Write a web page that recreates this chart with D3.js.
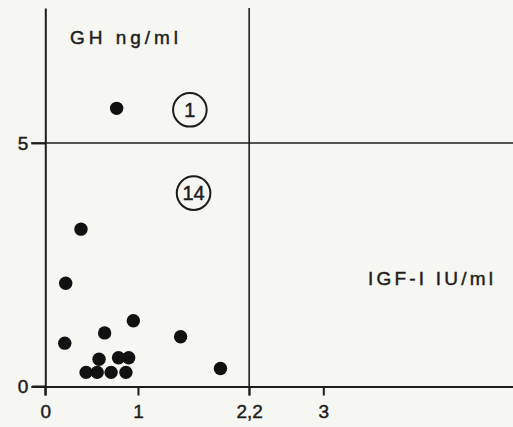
<!DOCTYPE html>
<html>
<head>
<meta charset="utf-8">
<script src="https://cdn.jsdelivr.net/npm/d3@7"></script>
<style>
    html,body{margin:0;padding:0;background:#f6f6f2;}
    svg{display:block;}
    text{stroke:#1d1d1d;stroke-width:0.45px;}
    .axis path,.axis line{stroke:#1d1d1d;stroke-width:2;}
    .axis text{font-family:"Liberation Sans",Arial,sans-serif;font-size:19px;fill:#1d1d1d;}
    .cut{stroke:#1d1d1d;stroke-width:1.6;}
    .label{font-family:"Liberation Sans",Arial,sans-serif;font-size:19px;fill:#1d1d1d;}
    .dot{fill:#111;}
    .ring{fill:none;stroke:#1d1d1d;stroke-width:2;}
    .ring_text{font-family:"Liberation Sans",Arial,sans-serif;font-size:20px;fill:#1d1d1d;}
</style>
</head>
<body>
<div id="scatter"></div>
<script>
// IGF-I (IU/ml) of every patient
var igf=[0.77,0.385,0.22,0.21,0.64,0.95,1.46,0.58,0.79,0.90,0.44,0.56,0.71,0.87,1.89];
// GH (ng/ml) of every patient
var gh=[5.71,3.23,2.12,0.89,1.10,1.35,1.02,0.56,0.59,0.59,0.29,0.29,0.29,0.29,0.37];

// tick values / labels
var x_ticks=[0,1,2.2,3],
    x_tick_labels=['0','1','2,2','3'],
    y_ticks=[0,5],
    y_tick_labels=['0','5'];

// cut-off values
var igf_cut=2.2,
    gh_cut=5;

// patient counts in the circles
var group_counts=['1','14'],
    group_igf=[1.56,1.60],
    group_gh=[5.68,3.97];

var width=513,
    height=427,
    dot_radius=6.7,
    ring_radius=16.8;

var scale_x=d3.scaleLinear()
    .domain([0,5.05])
    .range([45.3,513.3]);

var scale_y=d3.scaleLinear()
    .domain([0,7.77])
    .range([386.5,8]);

var svg=d3.select('#scatter')
    .append('svg')
    .attr('width',width)
    .attr('height',height);

// cut-off lines
svg.append('line')
    .attr('class','cut')
    .attr('x1',scale_x(0)-14)
    .attr('x2',width)
    .attr('y1',scale_y(gh_cut))
    .attr('y2',scale_y(gh_cut));

svg.append('line')
    .attr('class','cut')
    .attr('x1',scale_x(igf_cut))
    .attr('x2',scale_x(igf_cut))
    .attr('y1',scale_y.range()[1])
    .attr('y2',scale_y(0)+9);

// x axis
var x_axis=d3.axisBottom(scale_x)
    .tickValues(x_ticks)
    .tickFormat(function (d,i) {
        return x_tick_labels[i];
    })
    .tickSize(9)
    .tickPadding(9)
    .tickSizeOuter(0);

svg.append('g')
    .attr('class','axis')
    .attr('transform','translate(0,'+scale_y(0)+')')
    .call(x_axis);

// y axis
var y_axis=d3.axisLeft(scale_y)
    .tickValues(y_ticks)
    .tickFormat(function (d,i) {
        return y_tick_labels[i];
    })
    .tickSize(14)
    .tickPadding(3)
    .tickSizeOuter(0);

svg.append('g')
    .attr('class','axis')
    .attr('transform','translate('+scale_x(0)+',0)')
    .call(y_axis);

// extend the axis lines a bit past the origin
svg.append('line')
    .attr('x1',scale_x(0)).attr('x2',scale_x(0))
    .attr('y1',scale_y(0)).attr('y2',scale_y(0)+9)
    .attr('stroke','#1d1d1d').attr('stroke-width',2);
svg.append('line')
    .attr('x1',scale_x(0)-13).attr('x2',scale_x(0))
    .attr('y1',scale_y(0)).attr('y2',scale_y(0))
    .attr('stroke','#1d1d1d').attr('stroke-width',2);

// axis titles
svg.append('text')
    .attr('class','label')
    .attr('x',70)
    .attr('y',43.5)
    .attr('textLength',108)
    .attr('lengthAdjust','spacing')
    .text('GH  ng/ml');

svg.append('text')
    .attr('class','label')
    .attr('x',368)
    .attr('y',285)
    .attr('textLength',125)
    .attr('lengthAdjust','spacing')
    .text('IGF-I IU/ml');

// points
svg.selectAll('.dot')
    .data(igf)
    .enter()
    .append('circle')
    .attr('class','dot')
    .attr('cx',function (d) {
        return scale_x(d);
    })
    .attr('cy',function (d,i) {
        return scale_y(gh[i]);
    })
    .attr('r',dot_radius);

// circled counts
var ring=svg.selectAll('.ring_g')
    .data(group_counts)
    .enter()
    .append('g')
    .attr('transform',function (d,i) {
        return 'translate('+scale_x(group_igf[i])+','+scale_y(group_gh[i])+')';
    });

ring.append('circle')
    .attr('class','ring')
    .attr('r',ring_radius);

ring.append('text')
    .attr('class','ring_text')
    .attr('text-anchor','middle')
    .attr('dy','0.36em')
    .text(function (d) {
        return d;
    });
</script>
</body>
</html>
